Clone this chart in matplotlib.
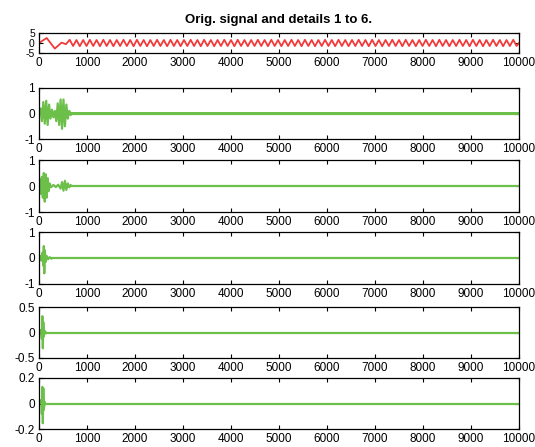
import matplotlib
matplotlib.use("Agg")
import matplotlib.pyplot as plt

plt.rcParams['font.family'] = ['Liberation Sans', 'DejaVu Sans']

title = "Orig. signal and details 1 to 6."
x_ticks = [0, 1000, 2000, 3000, 4000, 5000, 6000, 7000, 8000, 9000, 10000]
x_max = 10000

# Original signal: extrema (about 7 cycles per 1000 samples)
red_x = [0, 160, 330, 470, 560,
         640, 710, 780, 850, 920, 990, 1060, 1130, 1200, 1270,
         1340, 1410, 1480, 1550, 1620, 1690, 1760, 1830, 1900, 1970,
         2040, 2110, 2180, 2250, 2320, 2390, 2460, 2530, 2600, 2670,
         2740, 2810, 2880, 2950, 3020, 3090, 3160, 3230, 3300, 3370,
         3440, 3510, 3580, 3650, 3720, 3790, 3860, 3930, 4000, 4070,
         4140, 4210, 4280, 4350, 4420, 4490, 4560, 4630, 4700, 4770,
         4840, 4910, 4980, 5050, 5120, 5190, 5260, 5330, 5400, 5470,
         5540, 5610, 5680, 5750, 5820, 5890, 5960, 6030, 6100, 6170,
         6240, 6310, 6380, 6450, 6520, 6590, 6660, 6730, 6800, 6870,
         6940, 7010, 7080, 7150, 7220, 7290, 7360, 7430, 7500, 7570,
         7640, 7710, 7780, 7850, 7920, 7990, 8060, 8130, 8200, 8270,
         8340, 8410, 8480, 8550, 8620, 8690, 8760, 8830, 8900, 8970,
         9040, 9110, 9180, 9250, 9320, 9390, 9460, 9530, 9600, 9670,
         9740, 9810, 9880, 9950, 10000]
red_y = [0.0, 2.5, -2.8, 0.2, -0.6,
         1.6, -1.5, 1.5, -1.6, 1.5, -1.5, 1.6, -1.5, 1.5, -1.6,
         1.6, -1.5, 1.5, -1.6, 1.5, -1.5, 1.6, -1.5, 1.5, -1.6,
         1.6, -1.5, 1.5, -1.6, 1.5, -1.5, 1.6, -1.5, 1.5, -1.6,
         1.6, -1.5, 1.5, -1.6, 1.5, -1.5, 1.6, -1.5, 1.5, -1.6,
         1.6, -1.5, 1.5, -1.6, 1.5, -1.5, 1.6, -1.5, 1.5, -1.6,
         1.6, -1.5, 1.5, -1.6, 1.5, -1.5, 1.6, -1.5, 1.5, -1.6,
         1.6, -1.5, 1.5, -1.6, 1.5, -1.5, 1.6, -1.5, 1.5, -1.6,
         1.6, -1.5, 1.5, -1.6, 1.5, -1.5, 1.6, -1.5, 1.5, -1.6,
         1.6, -1.5, 1.5, -1.6, 1.5, -1.5, 1.6, -1.5, 1.5, -1.6,
         1.6, -1.5, 1.5, -1.6, 1.5, -1.5, 1.6, -1.5, 1.5, -1.6,
         1.6, -1.5, 1.5, -1.6, 1.5, -1.5, 1.6, -1.5, 1.5, -1.6,
         1.6, -1.5, 1.5, -1.6, 1.5, -1.5, 1.6, -1.5, 1.5, -1.6,
         1.6, -1.5, 1.5, -1.6, 1.5, -1.5, 1.6, -1.5, 1.5, -1.6,
         1.5, -1.5, 1.6, -1.5, 0.0]

# Details: burst extrema + envelope of the steady part
d1_x = [0, 30, 60, 90, 120, 150, 180, 210, 240, 270, 300, 330, 360, 390, 420, 450, 480, 510, 540, 570, 600, 630, 660]
d1_y = [0, 0.2, -0.3, 0.45, -0.4, 0.5, -0.45, 0.35, -0.2, 0.15, -0.15, 0.1, -0.3, 0.4, -0.45, 0.55, -0.6, 0.55, -0.5, 0.35, -0.2, 0.1, -0.05]
d1_band = 0.07

d2_x = [0, 20, 40, 60, 80, 100, 120, 140, 160, 180, 200, 220, 250, 300, 350, 400, 450, 480, 510, 540, 570, 600, 630, 660]
d2_y = [0, 0.25, -0.3, 0.35, -0.45, 0.5, -0.6, 0.45, -0.45, 0.3, -0.2, 0.1, -0.05, 0.04, -0.04, 0.05, -0.1, 0.15, -0.18, 0.2, -0.15, 0.1, -0.05, 0.03]
d2_band = 0.03

d3_x = [0, 30, 50, 70, 90, 100, 110, 120, 140, 160, 190, 220, 260]
d3_y = [0, 0.08, -0.1, 0.2, -0.3, 0.46, -0.59, 0.3, -0.15, 0.08, -0.05, 0.03, -0.02]
d3_band = 0.02

d4_x = [0, 40, 60, 70, 80, 90, 100, 120, 150]
d4_y = [0, 0.05, -0.12, 0.32, -0.31, 0.2, -0.08, 0.03, -0.01]
d4_band = 0.012

d5_x = [0, 50, 60, 70, 80, 90, 100, 120]
d5_y = [0, 0.03, -0.08, 0.13, -0.155, 0.12, -0.05, 0.01]
d5_band = 0.005

details = [
    (d1_x, d1_y, d1_band, (-1, 1), [-1, 0, 1], ["-1", "0", "1"]),
    (d2_x, d2_y, d2_band, (-1, 1), [-1, 0, 1], ["-1", "0", "1"]),
    (d3_x, d3_y, d3_band, (-1, 1), [-1, 0, 1], ["-1", "0", "1"]),
    (d4_x, d4_y, d4_band, (-0.5, 0.5), [-0.5, 0, 0.5], ["-0.5", "0", "0.5"]),
    (d5_x, d5_y, d5_band, (-0.2, 0.2), [-0.2, 0, 0.2], ["-0.2", "0", "0.2"]),
]

RED = "#f23a3a"
GREEN = "#6cc04a"
W, H = 535, 447

fig = plt.figure(figsize=(W / 100, H / 100), dpi=100)

boxes = [(33, 53), (88, 139), (160, 212), (232, 284), (307, 358), (378, 429)]
left, right = 39, 519


def make_ax(top, bottom):
    ax = fig.add_axes([left / W, 1 - bottom / H, (right - left) / W, (bottom - top) / H])
    ax.set_xlim(0, x_max)
    ax.set_xticks(x_ticks)
    ax.set_xticklabels([str(t) for t in x_ticks])
    ax.tick_params(direction='in', length=3, width=0.8, labelsize=8.5, pad=3,
                   top=True, right=True, colors='black')
    for s in ax.spines.values():
        s.set_linewidth(0.9)
    return ax


ax0 = make_ax(*boxes[0])
ax0.plot(red_x, red_y, color=RED, lw=1.3)
ax0.set_ylim(-5, 5)
ax0.set_yticks([-5, 0, 5])
ax0.set_yticklabels(["-5", "0", "5"])
ax0.tick_params(axis='y', labelsize=7.5)
ax0.set_title(title, fontsize=9.5, fontweight='bold', pad=7)

for (bx, by, band, yl, yt, ytl), (top, bottom) in zip(details, boxes[1:]):
    ax = make_ax(top, bottom)
    ax.plot(bx, by, color=GREEN, lw=1.6)
    ax.fill_between([bx[-1], x_max], [-band, -band], [band, band], color=GREEN, lw=0)
    ax.plot([bx[-1], x_max], [0, 0], color=GREEN, lw=1.6)
    ax.set_ylim(*yl)
    ax.set_yticks(yt)
    ax.set_yticklabels(ytl)

fig.savefig("out.png", dpi=100)
